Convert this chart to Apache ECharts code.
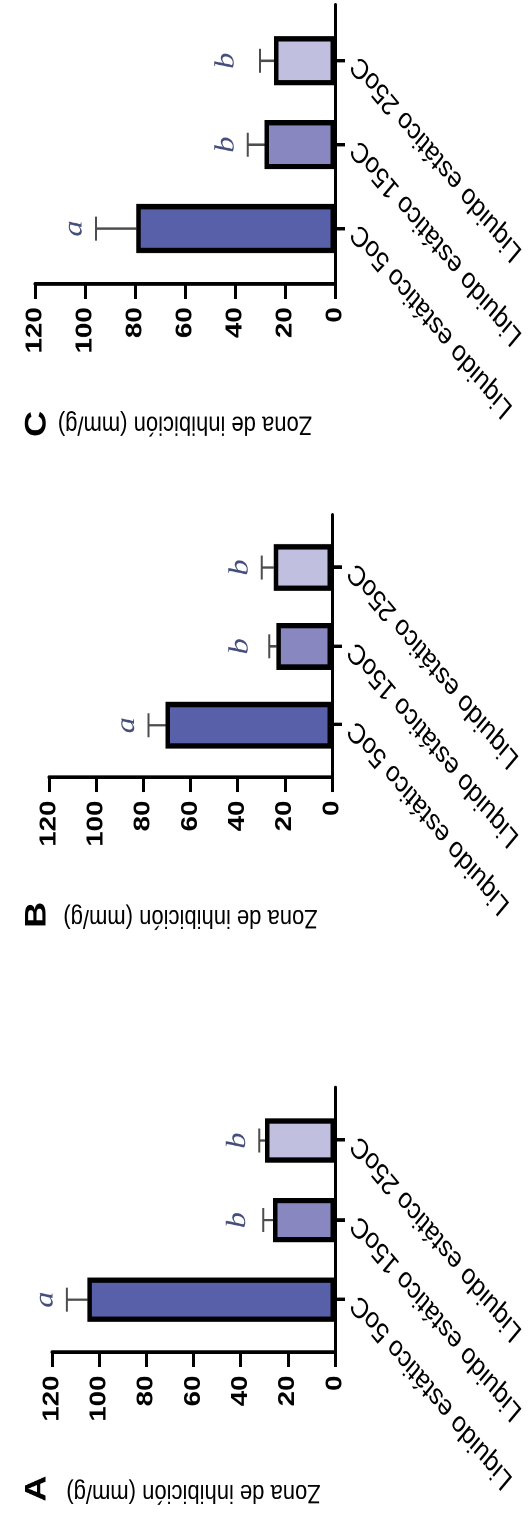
<!DOCTYPE html>
<html>
<head>
<meta charset="utf-8">
<script src="https://cdn.jsdelivr.net/npm/echarts@6/dist/echarts.min.js"></script>
<style>
  html, body { margin: 0; padding: 0; background: #fff; overflow: hidden; }
  #page { position: relative; width: 530px; height: 1522px; overflow: hidden; }
  /* the figure is drawn landscape, stretched a little in x, then turned a quarter left */
  #chart {
    position: absolute; left: 0; top: 0; width: 1268px; height: 530px;
    transform-origin: 0 0;
    transform: translateY(1522px) rotate(-90deg) scaleX(1.2003);
  }
</style>
</head>
<body>
<div id="page"><div id="chart"></div></div>
<script>
const categories = ['Liquido estático 5oC', 'Liquido estático 15oC', 'Liquido estático 25oC'];
const panels = ['A', 'B', 'C'];
const yTicks = [0, 20, 40, 60, 80, 100, 120];

const meansA = [105, 26.3, 29.7];
const errorsA = [8.7, 4.1, 2.4];
const lettersA = ['a', 'b', 'b'];

const meansB = [70.6, 23.6, 24.7];
const errorsB = [7.2, 3.0, 5.1];
const lettersB = ['a', 'b', 'b'];

const meansC = [79.5, 28.2, 24.4];
const errorsC = [16.1, 6.7, 5.6];
const lettersC = ['a', 'b', 'b'];

const barColors = ['#5760a8', '#8987c0', '#c1bfdf'];

// layout (chart coords before the page rotation)
const grids = [
    { left: 141, top: 52, width: 221, height: 283 },
    { left: 620, top: 49, width: 219, height: 283 },
    { left: 1031, top: 35, width: 233, height: 300 }
];
const barWidths = [37, 39, 41];
const panelLetterLeft = [17, 495, 904];

// categories sit on slots 2, 5, 8 of an 11 slot axis so the axis runs past them
const slotCount = 11;
const slotOf = [2, 5, 8];
const slotLabels = new Array(slotCount).fill('');
categories.forEach((c, i) => { slotLabels[slotOf[i]] = c; });
const isCategorySlot = (idx) => slotOf.indexOf(idx) >= 0;

const font = 'Liberation Sans, Arial, sans-serif';
const chart = echarts.init(document.getElementById('chart'), null, { devicePixelRatio: 2 });

function renderError(params, api) {
    const lo = api.coord([api.value(0), api.value(1)]);
    const hi = api.coord([api.value(0), api.value(2)]);
    const half = 10;
    const style = { stroke: '#4d4d4d', lineWidth: 2, fill: null };
    return {
        type: 'group',
        children: [
            { type: 'line', shape: { x1: lo[0], y1: lo[1], x2: hi[0], y2: hi[1] }, style: style },
            { type: 'line', shape: { x1: hi[0] - half, y1: hi[1], x2: hi[0] + half, y2: hi[1] }, style: style }
        ]
    };
}

const panelData = [
    { means: meansA, errors: errorsA, letters: lettersA },
    { means: meansB, errors: errorsB, letters: lettersB },
    { means: meansC, errors: errorsC, letters: lettersC }
];

let grid = [], xAxis = [], yAxis = [], series = [], title = [];

panelData.forEach((p, i) => {
    grid.push(Object.assign({ containLabel: false, outerBoundsMode: 'none' }, grids[i]));

    xAxis.push({
        gridIndex: i,
        type: 'category',
        data: slotLabels,
        boundaryGap: false,
        axisLine: { show: true, lineStyle: { color: '#000', width: 3 } },
        axisTick: { show: true, length: 10, interval: (idx) => isCategorySlot(idx), lineStyle: { color: '#000', width: 3 } },
        axisLabel: {
            interval: (idx) => isCategorySlot(idx),
            rotate: 45, margin: 20,
            fontSize: 24, fontFamily: font, color: '#000'
        },
        splitLine: { show: false }
    });

    yAxis.push({
        gridIndex: i,
        type: 'value',
        min: yTicks[0], max: yTicks[yTicks.length - 1], interval: yTicks[1] - yTicks[0],
        name: 'Zona de inhibición (mm/g)',
        nameLocation: 'middle', nameGap: 105,
        nameTextStyle: { fontSize: 22, fontFamily: font, color: '#000' },
        axisLine: { show: true, lineStyle: { color: '#000', width: 3 } },
        axisTick: { show: true, length: 12, lineStyle: { color: '#000', width: 3 } },
        axisLabel: { fontSize: 23, fontWeight: 'bold', fontFamily: font, color: '#000', margin: 19 },
        splitLine: { show: false }
    });

    const barData = new Array(slotCount).fill('-');
    const errData = [];
    p.means.forEach((m, k) => {
        barData[slotOf[k]] = { value: m, itemStyle: { color: barColors[k] } };
        errData.push([slotOf[k], m, m + p.errors[k]]);
    });

    // each letter sits above the highest error bar of its group
    const letterData = p.letters.map((l, k) => {
        let top = 0;
        p.letters.forEach((l2, k2) => {
            if (l2 === l) top = Math.max(top, p.means[k2] + p.errors[k2]);
        });
        return { value: [slotOf[k], top], name: l };
    });

    series.push({
        type: 'bar',
        xAxisIndex: i, yAxisIndex: i,
        data: barData,
        barWidth: barWidths[i],
        itemStyle: { borderColor: '#000', borderWidth: 4.5 },
        z: 2
    });
    series.push({
        type: 'custom',
        xAxisIndex: i, yAxisIndex: i,
        data: errData,
        encode: { x: 0, y: [1, 2] },
        renderItem: renderError,
        z: 1
    });
    series.push({
        type: 'scatter',
        xAxisIndex: i, yAxisIndex: i,
        data: letterData,
        symbolSize: 0,
        label: {
            show: true, position: 'top', distance: 8,
            formatter: (d) => d.name,
            fontSize: 27, fontStyle: 'italic', fontFamily: 'Liberation Serif, Times New Roman, serif',
            color: '#16205a'
        },
        z: 3
    });

    title.push({
        text: panels[i],
        left: panelLetterLeft[i], top: 22, padding: 0,
        textStyle: { fontSize: 30, fontWeight: 'bold', fontFamily: font, color: '#000' }
    });
});

chart.setOption({
    animation: false,
    backgroundColor: '#fff',
    title: title,
    grid: grid,
    xAxis: xAxis,
    yAxis: yAxis,
    series: series
});
</script>
</body>
</html>
